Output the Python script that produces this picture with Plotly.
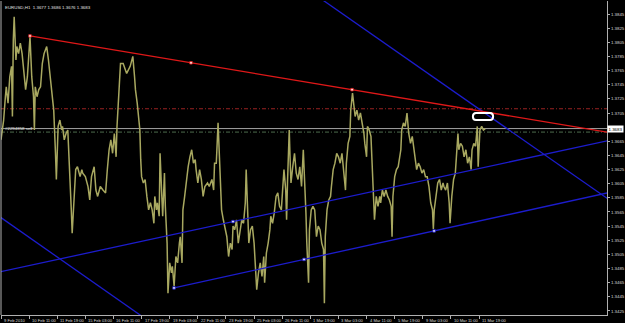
import plotly.graph_objects as go

header_text = "EURUSD,H1  1.3677 1.3686 1.3676 1.3683"
order_label = "#2294858 sell"
bid_label = "1.3683"

bars = [0, 3, 5, 6, 8, 10, 12, 13, 14, 15, 17, 18, 20, 22, 24, 26, 28, 30, 31, 33, 35, 37, 38, 39, 41, 43, 45, 47, 49, 52,
        54, 56, 58, 60, 62, 63, 65, 67, 69, 70, 72, 74, 76, 78, 80, 81, 83, 85, 87, 90, 92, 93, 96, 99, 101, 103, 106, 108,
        110, 113, 116, 119, 121, 123, 125, 127, 129, 131, 132, 134, 135, 136,
        139, 143, 147, 150, 152, 153, 155, 157, 158, 159, 160, 162, 164, 166, 168, 170, 172, 174, 175, 177, 178, 180, 181,
        183, 184, 186, 187, 189, 190, 192, 194, 195, 197, 199, 201, 203, 204, 206, 207, 209, 211, 213, 215, 217, 219, 221,
        222, 224, 226, 228, 230, 232, 235, 237, 240, 242, 243, 245, 247, 248, 250, 251, 253, 255, 257, 259, 261, 263, 264,
        266, 268, 270, 272, 274, 276,
        278, 279, 281, 282, 284, 286, 288, 290, 291, 293, 295, 297, 299, 300, 302, 304, 306, 307, 309, 311, 313, 315, 317,
        319, 321, 322, 324, 325, 326, 327, 328, 329, 330, 332, 334, 336, 338, 340, 342, 344, 346, 347, 348, 350, 351, 353,
        355, 357, 359, 361, 363, 365, 367, 368, 369, 371, 373, 375, 376, 378, 380, 382, 384, 386, 388, 390, 392, 393, 395,
        397, 398, 400, 401, 403, 405, 407, 409,
        411, 413, 414, 416, 417, 419, 421, 423, 425, 427, 429, 431, 432, 434, 436, 438, 440, 442, 444, 445, 446, 448, 450,
        452, 454, 455, 456, 458, 460, 462, 464, 466, 468, 470, 472, 473, 475, 477, 479, 481, 483, 485, 487, 489, 491, 492,
        493, 495, 497, 499, 501, 503, 504, 506, 508, 510, 511, 513, 515, 517, 519, 520, 521, 523, 525, 527, 529, 531, 533,
        535, 536, 538, 540, 542, 543, 544, 545, 547, 549, 551]

close = [1.3667, 1.3695, 1.3728, 1.3742, 1.3719, 1.3756, 1.3771, 1.3700, 1.3808, 1.3841, 1.3780, 1.3799, 1.3789, 1.3804,
         1.3789, 1.3766, 1.3738, 1.3756, 1.3780, 1.3813, 1.3756, 1.3728, 1.3681, 1.3742, 1.3728, 1.3738, 1.3742, 1.3775,
         1.3789, 1.3799, 1.3780, 1.3756, 1.3738, 1.3709, 1.3648, 1.3611, 1.3686, 1.3695, 1.3681, 1.3686, 1.3667, 1.3676,
         1.3681, 1.3634, 1.3568, 1.3535, 1.3587, 1.3625, 1.3629, 1.3615, 1.3625, 1.3620, 1.3615, 1.3601, 1.3582, 1.3615,
         1.3629, 1.3596, 1.3587, 1.3601, 1.3596, 1.3592, 1.3625, 1.3653, 1.3667, 1.3648, 1.3676, 1.3643, 1.3686, 1.3728,
         1.3756, 1.3775,
         1.3775, 1.3761, 1.3771, 1.3785, 1.3756, 1.3738, 1.3719, 1.3695, 1.3681, 1.3639, 1.3615, 1.3606, 1.3611, 1.3587,
         1.3568, 1.3578, 1.3568, 1.3549, 1.3587, 1.3568, 1.3578, 1.3559, 1.3648, 1.3587, 1.3559, 1.3620, 1.3573, 1.3521,
         1.3450, 1.3493, 1.3479, 1.3488, 1.3460, 1.3502, 1.3493, 1.3521, 1.3530, 1.3493, 1.3568, 1.3587, 1.3611, 1.3629,
         1.3643, 1.3653, 1.3634, 1.3639, 1.3625, 1.3606, 1.3625, 1.3611, 1.3587, 1.3601, 1.3606, 1.3601, 1.3611, 1.3596,
         1.3634, 1.3634, 1.3691, 1.3662, 1.3587, 1.3568, 1.3554, 1.3540, 1.3530, 1.3502, 1.3521, 1.3512, 1.3545, 1.3540,
         1.3554, 1.3521, 1.3540, 1.3554, 1.3549,
         1.3578, 1.3625, 1.3549, 1.3521, 1.3540, 1.3545, 1.3521, 1.3483, 1.3455, 1.3479, 1.3493, 1.3474, 1.3502, 1.3465,
         1.3507, 1.3521, 1.3540, 1.3559, 1.3549, 1.3564, 1.3587, 1.3592, 1.3573, 1.3568, 1.3601, 1.3625, 1.3596, 1.3554,
         1.3606, 1.3653, 1.3681, 1.3639, 1.3606, 1.3629, 1.3648, 1.3620, 1.3611, 1.3629, 1.3601, 1.3653, 1.3606, 1.3564,
         1.3521, 1.3465, 1.3540, 1.3568, 1.3573, 1.3568, 1.3530, 1.3545, 1.3540, 1.3521, 1.3512, 1.3436, 1.3530, 1.3568,
         1.3582, 1.3587, 1.3601, 1.3625, 1.3634, 1.3648, 1.3643, 1.3634, 1.3648, 1.3625, 1.3596, 1.3634, 1.3662, 1.3672,
         1.3709, 1.3733, 1.3723, 1.3700, 1.3709, 1.3695, 1.3705,
         1.3691, 1.3676, 1.3662, 1.3643, 1.3686, 1.3681, 1.3672, 1.3606, 1.3554, 1.3587, 1.3573, 1.3587, 1.3578, 1.3596,
         1.3587, 1.3596, 1.3587, 1.3582, 1.3573, 1.3530, 1.3587, 1.3615, 1.3625, 1.3629, 1.3643, 1.3653, 1.3681, 1.3691,
         1.3686, 1.3705, 1.3676, 1.3662, 1.3672, 1.3653, 1.3639, 1.3625, 1.3634, 1.3629, 1.3620, 1.3625, 1.3615, 1.3615,
         1.3601, 1.3578, 1.3568, 1.3541, 1.3568, 1.3587, 1.3606, 1.3611, 1.3596, 1.3606, 1.3601, 1.3596, 1.3606, 1.3578,
         1.3549, 1.3587, 1.3611, 1.3620, 1.3653, 1.3676, 1.3653, 1.3662, 1.3658, 1.3643, 1.3653, 1.3634, 1.3643, 1.3625,
         1.3653, 1.3662, 1.3658, 1.3686, 1.3629, 1.3667, 1.3681, 1.3686, 1.3681, 1.3683]

tick_bars = [0, 32, 64, 96, 128, 160, 192, 224, 256, 288, 320, 352, 384, 416, 448, 480, 512, 544]
tick_labels = ["9 Feb 2010", "10 Feb 11:00", "11 Feb 19:00", "15 Feb 03:00", "16 Feb 11:00", "17 Feb 19:00",
               "19 Feb 03:00", "22 Feb 11:00", "23 Feb 19:00", "25 Feb 03:00", "26 Feb 11:00", "1 Mar 19:00",
               "3 Mar 03:00", "4 Mar 11:00", "5 Mar 19:00", "9 Mar 03:00", "10 Mar 11:00", "11 Mar 19:00"]

price_ticks = [1.3425, 1.3445, 1.3465, 1.3485, 1.3505, 1.3525, 1.3545, 1.3565, 1.3585, 1.3605, 1.3625,
               1.3645, 1.3665, 1.3685, 1.3705, 1.3725, 1.3745, 1.3765, 1.3785, 1.3805, 1.3825, 1.3845]
price_tick_text = ["1.3425", "1.3445", "1.3465", "1.3485", "1.3505", "1.3525", "1.3545", "1.3565", "1.3585",
                   "1.3605", "1.3625", "1.3645", "1.3665", "", "1.3705", "1.3725", "1.3745", "1.3765",
                   "1.3785", "1.3805", "1.3825", "1.3845"]

# trend objects (anchor bars / prices)
red_trend_bars = [33.0, 399.5]
red_trend_prices = [1.3814, 1.3738]
chan_low_bars = [196.9, 492.8]
chan_low_prices = [1.34576, 1.35382]
chan_up_bars = [264.0, 472.0]
chan_up_prices = [1.35514, 1.36072]
steep_a_bars = [0.0, 100.0]
steep_a_prices = [1.35570, 1.34700]
steep_b_bars = [400.0, 600.0]
steep_b_prices = [1.38354, 1.36620]

red_level = 1.3711
bid_level = 1.3683
order_level = 1.3678

box_bars = [537.0, 560.0]
box_prices = [1.3695, 1.3705]

x_range = [0, 689.6]
y_range = [1.34193, 1.38634]


def line_at(b, p, x):
    s = (p[1] - p[0]) / (b[1] - b[0])
    return p[0] + s * (x - b[0])


fig = go.Figure()

# horizontal level lines
for lvl, col, dash in [(red_level, "#9a2222", "4px,2px,1px,2px"),
                       (order_level, "#4d6b4d", "4px,2px,1px,2px"),
                       (bid_level, "#a0a0a0", "solid")]:
    fig.add_trace(go.Scatter(x=x_range, y=[lvl, lvl], mode="lines",
                             line=dict(color=col, width=1, dash=dash), hoverinfo="skip"))

# price line
fig.add_trace(go.Scatter(x=bars, y=close, mode="lines", line=dict(color="#a8a860", width=1.5), hoverinfo="skip"))

blue = "#1c1ccc"
# full-width lines
for b, p in [(chan_up_bars, chan_up_prices), (steep_a_bars, steep_a_prices), (steep_b_bars, steep_b_prices)]:
    xs = [-10, 710]
    fig.add_trace(go.Scatter(x=xs, y=[line_at(b, p, v) for v in xs], mode="lines",
                             line=dict(color=blue, width=1.3), hoverinfo="skip"))
# rays
for b, p, col in [(chan_low_bars, chan_low_prices, blue), (red_trend_bars, red_trend_prices, "#e01818")]:
    xs = [b[0], 710]
    fig.add_trace(go.Scatter(x=xs, y=[line_at(b, p, v) for v in xs], mode="lines",
                             line=dict(color=col, width=1.3), hoverinfo="skip"))
    mids = [b[0], (b[0] + b[1]) / 2, b[1]]
    fig.add_trace(go.Scatter(x=mids, y=[line_at(b, p, v) for v in mids], mode="markers",
                             marker=dict(symbol="square", size=2.5, color="#ffffff", line=dict(color=col, width=0.8)),
                             hoverinfo="skip"))
fig.add_trace(go.Scatter(x=[chan_up_bars[0]], y=[chan_up_prices[0]], mode="markers",
                         marker=dict(symbol="square", size=2.5, color="#ffffff", line=dict(color=blue, width=0.8)),
                         hoverinfo="skip"))

# rounded box
x0, x1 = box_bars
y0, y1 = box_prices
rx = 3.5
ry = (y1 - y0) / 2
path = (f"M {x0+rx},{y1} L {x1-rx},{y1} Q {x1},{y1} {x1},{y1-ry} Q {x1},{y0} {x1-rx},{y0} "
        f"L {x0+rx},{y0} Q {x0},{y0} {x0},{y0+ry} Q {x0},{y1} {x0+rx},{y1} Z")

shapes = [
    dict(type="path", path=path, xref="x", yref="y", line=dict(color="#ffffff", width=2)),
    dict(type="line", xref="paper", yref="paper", x0=0, x1=0, y0=0, y1=1, line=dict(color="#b0b0b0", width=1)),
]

font_family = "Liberation Sans, Arial, sans-serif"
ann = []
for tb, tl in zip(tick_bars, tick_labels):
    ann.append(dict(x=tb, y=0, xref="x", yref="paper", text=tl, showarrow=False, xanchor="left", yanchor="top",
                    xshift=1, yshift=-1, font=dict(color="#d8d8d8", size=4.1, family=font_family)))
ann.append(dict(x=0, y=1, xref="paper", yref="paper", text=header_text, showarrow=False, xanchor="left",
                yanchor="top", xshift=2, yshift=-2, font=dict(color="#e0e0e0", size=4.4, family=font_family)))
ann.append(dict(x=2, y=bid_level, xref="x", yref="y", text=order_label, showarrow=False, xanchor="left",
                yanchor="middle", yshift=0, font=dict(color="#e0e0e0", size=4.4, family=font_family)))
ann.append(dict(x=1, y=bid_level, xref="paper", yref="y", text=bid_label, showarrow=False, xanchor="left",
                yanchor="middle", xshift=0, bgcolor="#ffffff", borderpad=0.5,
                font=dict(color="#000000", size=4.4, family=font_family)))

fig.update_layout(
    width=625, height=323,
    margin=dict(l=1, r=18, t=1, b=8),
    paper_bgcolor="#000000", plot_bgcolor="#000000",
    showlegend=False,
    shapes=shapes,
    annotations=ann,
    xaxis=dict(range=x_range, showgrid=False, zeroline=False, showline=True, linecolor="#b0b0b0", linewidth=1,
               tickmode="array", tickvals=tick_bars, ticktext=[""] * len(tick_bars), ticks="outside",
               ticklen=3, tickcolor="#b0b0b0", showticklabels=False, fixedrange=True),
    yaxis=dict(range=y_range, side="right", showgrid=False, zeroline=False, showline=True, linecolor="#b0b0b0",
               linewidth=1, tickmode="array", tickvals=price_ticks, ticktext=price_tick_text, ticks="outside",
               ticklen=2, tickcolor="#b0b0b0", automargin=False,
               tickfont=dict(color="#d8d8d8", size=4.4, family=font_family), fixedrange=True),
)

fig.write_html("out.html")
